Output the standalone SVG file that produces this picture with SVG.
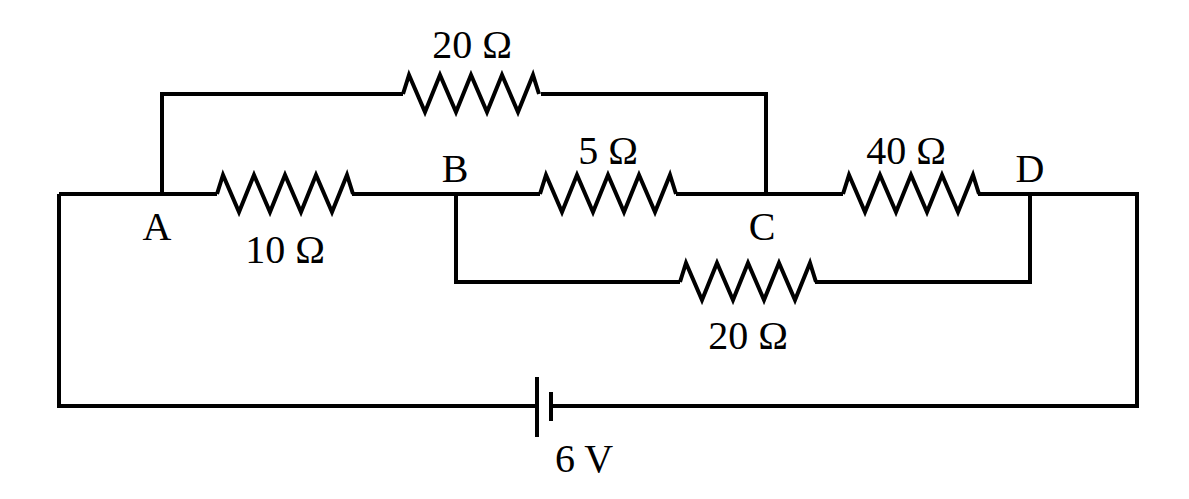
<svg xmlns="http://www.w3.org/2000/svg" width="1189" height="499" viewBox="0 0 1189 499">
<style>
.w{fill:none;stroke:#000;stroke-width:4;stroke-linejoin:miter}
text{font-family:"Liberation Serif","DejaVu Serif",serif;font-size:40px;fill:#000;text-anchor:middle}
</style>
<defs>
<path id="r" class="w" d="M0,0 l6,-19 l16,37 l15,-37 l16,37 l15,-37 l16,37 l15,-37 l16,37 l15,-37 l6,19"/>
</defs>
<rect width="1189" height="499" fill="#fff"/>
<g id="connectors">
<path class="w" d="M403,94 H162 V194 M541,94 H766 V194 M59,194 H217 M352,194 H540 M676,194 H843 M978,194 H1137 V406 H551 M537,406 H59 V194 M456,194 V282 H680 M815,282 H1030 V194"/>
<path class="w" d="M537,377 V437 M551,392 V421"/>
</g>
<g id="R1"><use href="#r" x="403" y="94"/><text x="472" y="58">20 Ω</text></g>
<g id="R2"><use href="#r" x="217" y="194"/><text x="285" y="263">10 Ω</text></g>
<g id="R3"><use href="#r" x="540" y="194"/><text x="608" y="164">5 Ω</text></g>
<g id="R4"><use href="#r" x="843" y="194"/><text x="906" y="164">40 Ω</text></g>
<g id="R5"><use href="#r" x="680" y="282"/><text x="748" y="349">20 Ω</text></g>
<g id="A"><text x="157" y="240">A</text></g>
<g id="B"><text x="455" y="182">B</text></g>
<g id="C"><text x="762" y="240">C</text></g>
<g id="D"><text x="1030" y="182">D</text></g>
<g id="battery"><text x="584" y="472">6 V</text></g>
</svg>
